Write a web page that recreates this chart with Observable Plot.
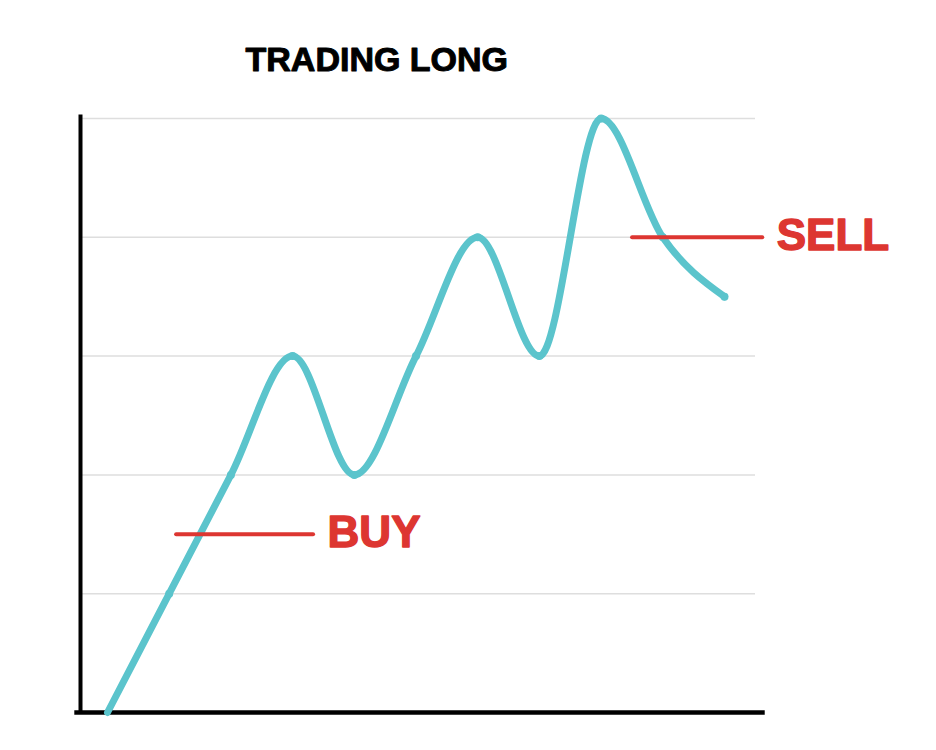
<!DOCTYPE html>
<html>
<head>
<meta charset="utf-8">
<script src="https://cdn.jsdelivr.net/npm/d3@7"></script>
<script src="https://cdn.jsdelivr.net/npm/@observablehq/plot@0.6"></script>
<style>
  html, body { margin: 0; padding: 0; background: #fff; }
</style>
</head>
<body>
<div id="chart"></div>
<script>
// Price path of a long trade, one value per step
const steps = [0, 1, 2, 3, 4, 5, 6, 7, 8, 9, 10];
const prices = [0, 1, 2, 3, 2, 3, 4, 3, 5, 4, 3.5];

// Horizontal grid levels
const gridLevels = [1, 2, 3, 4, 5];

// Entry / exit markers
const signalLabels = ["BUY", "SELL"];
const signalLevels = [1.5, 4];
const signalFrom = [1.12, 8.51];
const signalTo = [3.34, 10.62];

const path = steps.map((s, i) => ({step: s, price: prices[i]}));
const signals = signalLabels.map((label, i) => ({
  label, level: signalLevels[i], from: signalFrom[i], to: signalTo[i]
}));

const teal = "#5bc4cc";
const red = "#dd3631";

const chart = Plot.plot({
  width: 936,
  height: 750,
  marginLeft: 80,
  marginRight: 181,
  marginTop: 118,
  marginBottom: 38,
  x: {domain: [-0.4376, 10.5024], axis: null},
  y: {domain: [0, 5], axis: null},
  style: {background: "#fff"},
  marks: [
    // grid
    Plot.ruleY(gridLevels, {stroke: "#dedede", strokeWidth: 1.5}),
    // hand-drawn style axes
    Plot.ruleX([-0.4376], {y1: 0, y2: 5.03, stroke: "#000", strokeWidth: 4}),
    Plot.ruleY([0], {x1: -0.53, x2: 10.66, stroke: "#000", strokeWidth: 4.5}),
    // price path
    Plot.line(path, {
      x: "step", y: "price", curve: "monotone-x",
      stroke: teal, strokeWidth: 7, strokeLinecap: "round", strokeLinejoin: "round"
    }),
    Plot.dot(path.slice(1), {x: "step", y: "price", r: 4, fill: teal}),
    // buy / sell levels
    Plot.ruleY(signals, {
      y: "level", x1: "from", x2: "to",
      stroke: red, strokeWidth: 4, strokeLinecap: "round"
    }),
    Plot.text(signals, {
      x: "to", y: "level", text: "label",
      textAnchor: "start", lineAnchor: "middle", dx: 14, dy: -1,
      fill: red, stroke: red, strokeWidth: 1.4, fontSize: 44, fontWeight: "bold",
      fontFamily: "Liberation Sans, Arial, sans-serif"
    }),
    // title
    Plot.text(["TRADING LONG"], {
      frameAnchor: "top-left", text: d => d,
      textAnchor: "start", lineAnchor: "middle", dx: 165, dy: -58,
      fill: "#000", stroke: "#000", strokeWidth: 1, fontSize: 34, fontWeight: "bold",
      fontFamily: "Liberation Sans, Arial, sans-serif"
    })
  ]
});

document.getElementById("chart").append(chart);
</script>
</body>
</html>
